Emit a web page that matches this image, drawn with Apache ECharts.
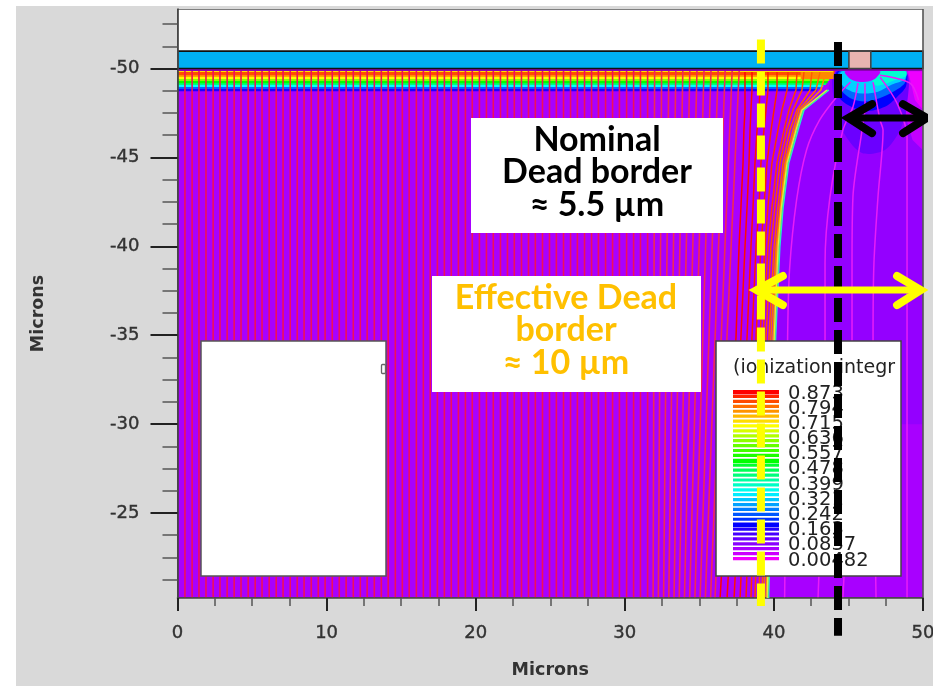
<!DOCTYPE html>
<html><head><meta charset="utf-8">
<style>html,body{margin:0;padding:0;background:#fff}#c{width:933px;height:686px}</style>
<script src="https://cdn.jsdelivr.net/npm/echarts@6/dist/echarts.min.js"></script>
</head><body><div id="c"></div>
<script>
// ---- data (microns, ionization integral) ----
const xTicks=[0,10,20,30,40,50];
const yMajor=[-50,-45,-40,-35,-30,-25];
const yMinor=[-52.5,-51.25,-48.75,-47.5,-46.25,-43.75,-42.5,-41.25,-38.75,-37.5,-36.25,-33.75,-32.5,-31.25,-28.75,-27.5,-26.25,-23.75,-22.5,-21.25];
const legendLabels=['0.873','0.794','0.715','0.636','0.557','0.478','0.399','0.321','0.242','0.163','0.0837','0.00482'];
const legendStripes=[.873,.848,.823,.798,.773,.748,.723,.698,.673,.648,.623,.598,.573,.548,.530,.498,.473,.448,.423,.398,.373,.348,.323,.298,.273,.248,.223,.190,.163,.138,.113,.088,.063,.038,.010];
const colorStops=[[0,'#ff00ff'],[.19,'#0000ff'],[.36,'#00ffff'],[.53,'#00ff00'],[.70,'#ffff00'],[.873,'#ff0000']];

const straightX=[0.50,0.98,1.44,1.91,2.39,2.85,3.33,3.80,4.26,4.74,5.21,5.67,6.15,6.62,7.08,7.56,8.03,8.49,8.97,9.44,9.90,10.38,10.85,11.31,11.79,12.26,12.72,13.20,13.67,14.13,14.61,15.08,15.54,16.02,16.49,16.95,17.43,17.90,18.36,18.84,19.31,19.77,20.25,20.72,21.18,21.66,22.13,22.59,23.07,23.54,24.00,24.48,24.95,25.41,25.89,26.36,26.82,27.30,27.77,28.23,28.71,29.18,29.64,30.12,30.59,31.05,31.53];
const slantTopX=[32.00,32.47,32.95,33.42,33.89,34.36,34.84,35.31,35.78,36.26,36.73,37.20,37.67];
const slantBottomX=[31.90,32.25,32.60,32.95,33.30,33.65,34.00,34.35,34.70,35.05,35.40,35.75,36.05];
const bentDepths=[-49.80,-48.79,-47.67,-46.54,-44.69,-42.21,-39.96,-34.90,-20.22];
const bentValues=[.87,.865,.86,.855,.85,.84,.83,.82,.81,.80,.78];
const bentLines=[
[38.06,38.06,38.06,37.99,37.93,37.79,37.66,37.46,36.39],
[38.53,38.53,38.46,38.40,38.33,38.20,38.06,37.79,36.86],
[39.07,39.07,39.00,38.87,38.73,38.60,38.46,38.20,37.33],
[39.60,39.60,39.47,39.33,39.13,39.00,38.80,38.53,37.73],
[40.21,40.21,40.01,39.81,39.54,39.33,39.13,38.80,38.13],
[40.95,40.88,40.54,40.27,39.87,39.60,39.40,39.07,38.46],
[41.55,41.48,41.01,40.68,40.21,39.87,39.60,39.27,38.73],
[42.02,41.88,41.28,40.88,40.41,40.07,39.80,39.47,39.00],
[42.55,42.42,41.55,41.08,40.61,40.27,40.01,39.67,39.20],
[43.09,42.82,41.68,41.28,40.74,40.41,40.14,39.80,39.33],
[43.49,43.15,41.82,41.41,40.81,40.47,40.21,39.94,39.47]];
const edgeYellow=[43.90,43.55,41.88,41.48,40.88,40.50,40.28,40.02,39.55];
const edgeGreen=[43.96,43.62,41.95,41.55,40.94,40.56,40.34,40.07,39.60];
const edgeCyan=[44.02,43.69,42.02,41.62,41.00,40.62,40.40,40.12,39.65];

const bandRowDepth=[-48.73,-48.85,-48.96,-49.07,-49.18,-49.30,-49.41,-49.52,-49.63,-49.80];
const bandRowValue=[.17,.26,.36,.45,.53,.62,.70,.76,.82,.86];
const bandRowEndX=[42.9,43.1,43.3,43.5,43.6,43.7,43.8,43.9,44.0,44.0];

const rightRegion=[[43.96,-49.85],[43.63,-48.79],[41.95,-47.67],[41.55,-46.54],[40.95,-44.69],[40.54,-42.21],[40.34,-39.96],[40.07,-34.90],[39.8,-30],[50,-30],[50,-49.85]];
const cornerOuter=[[48.6,-49.85],[50,-49.85],[50,-45.4],[49.3,-45.98],[48.9,-47.1]];
const cornerInner=[[49.0,-49.85],[50,-49.85],[50,-47.67],[49.46,-48.23]];
const halo1=[[44.15,-49.85],[44.15,-47.67],[44.77,-46.26],[45.91,-45.25],[47.45,-45.42],[48.46,-46.54],[48.93,-47.95],[48.79,-49.85]];
const halo2=[[44.29,-49.85],[44.29,-48.5],[44.97,-47.95],[46.11,-47.6],[47.45,-47.85],[48.26,-48.4],[48.86,-49.0],[48.79,-49.85]];
const halo3=[[44.43,-49.85],[44.43,-48.9],[45.10,-48.35],[46.11,-48.15],[47.12,-48.35],[48.12,-48.75],[48.79,-49.2],[48.79,-49.85]];
const halo4=[[44.56,-49.85],[44.56,-49.1],[45.24,-48.7],[46.11,-48.6],[46.98,-48.7],[47.92,-49.1],[48.79,-49.4],[48.79,-49.85]];
const halo5=[[46.58,-49.85],[46.78,-49.07],[47.45,-49.13],[48.12,-49.35],[48.86,-49.58],[48.86,-49.85]];
const arch=[[44.77,-49.85],[45.04,-49.47],[45.44,-49.30],[45.91,-49.24],[46.45,-49.30],[46.85,-49.47],[47.12,-49.85]];
const bandFade1=[[41.8,-49.80],[44.0,-49.80],[44.0,-49.41],[41.8,-49.41]];

const rightFlow=[
[[45.14,-49.24],[44.20,-48.40],[43.06,-47.10],[42.19,-45.42],[41.52,-42.60],[41.05,-38.70],[40.92,-34.90],[40.72,-20.22]],
[[45.64,-49.18],[45.30,-47.84],[44.63,-46.54],[43.76,-42.77],[43.43,-39.06],[43.43,-34.90],[42.96,-20.22]],
[[46.11,-49.18],[46.11,-47.84],[45.91,-46.54],[45.30,-42.77],[45.24,-39.06],[45.24,-34.90],[44.63,-20.22]],
[[46.65,-49.24],[47.12,-47.10],[47.32,-46.54],[46.98,-42.77],[46.71,-39.06],[46.65,-34.90],[46.85,-20.22]],
[[47.12,-49.52],[48.26,-48.05],[48.93,-46.14],[48.93,-34.90],[48.93,-20.22]],
[[47.12,-49.63],[49.13,-49.18],[49.70,-48.23]]];

const yellowDashX=39.13, blackDashX=44.30;
const yellowDashY=[-51.64,-19.77];
const blackDashY=[-51.50,-18.10];
const blackArrow={shaft:[[45.0,-47.22],[50.25,-47.22]],left:[[46.58,-48.0],[45.0,-47.22],[46.58,-46.37]],right:[[48.66,-48.0],[50.25,-47.22],[48.66,-46.37]]};
const yellowArrow={shaft:[[38.85,-37.54],[49.85,-37.54]],left:[[40.60,-38.33],[38.85,-37.54],[40.60,-36.70]],right:[[48.26,-38.33],[49.85,-37.54],[48.26,-36.70]]};

// ---- helpers ----
function hex(c){return [1,3,5].map(i=>parseInt(c.substr(i,2),16));}
function rainbow(v){
  for(let i=1;i<colorStops.length;i++){
    if(v<=colorStops[i][0]){
      const a=colorStops[i-1],b=colorStops[i],t=(v-a[0])/(b[0]-a[0]);
      const A=hex(a[1]),B=hex(b[1]);
      return 'rgb('+A.map((q,k)=>Math.round(q+(B[k]-q)*t)).join(',')+')';
    }
  }
  return '#ff0000';
}
const yTop=-53.35,yBot=-20.22;
const rect=(x0,y0,x1,y1)=>[[x0,y0],[x1,y0],[x1,y1],[x0,y1]];
const shapes=[];
shapes.push({pts:rect(0,-49.86,50,yBot),fill:rainbow(.065)});
shapes.push({pts:rightRegion,fill:rainbow(.08)});
shapes.push({pts:cornerOuter,fill:rainbow(.045)});
shapes.push({pts:cornerInner,fill:rainbow(.012)});
shapes.push({pts:halo1,fill:rainbow(.11),smooth:.3});
shapes.push({pts:halo2,fill:rainbow(.19),smooth:.3});
shapes.push({pts:halo3,fill:rainbow(.26),smooth:.3});
shapes.push({pts:halo4,fill:rainbow(.33),smooth:.3});
shapes.push({pts:halo5,fill:rainbow(.39),smooth:.3});
shapes.push({pts:arch,fill:rainbow(.05),smooth:.3});
bandRowDepth.forEach((d,i)=>shapes.push({pts:[[0,-49.86],[bandRowEndX[i]+.1,-49.86],[bandRowEndX[i],d],[0,d]],fill:rainbow(bandRowValue[i])}));
shapes.push({pts:rect(0,-49.86,44,-49.80),fill:rainbow(.72)});
shapes.push({pts:bandFade1,fill:rainbow(.78)});
shapes.push({pts:rect(0,-50,50,-49.86),fill:'#8c00b4'});
shapes.push({pts:rect(0,-50.98,50,-50),fill:'#00b0f4',stroke:'#111',lw:1.6});
shapes.push({pts:rect(45.03,-50.98,46.5,-50),fill:'#e8b4b0',stroke:'#444',lw:1.6});
shapes.push({pts:rect(0,yTop,50,yBot),fill:'none',stroke:'#555',lw:1.6});

function poly(data,color,width,z,extra){
  return Object.assign({type:'line',data,symbol:'none',silent:true,clip:false,z,animation:false,
    lineStyle:{color,width,cap:'butt'}},extra||{});
}
const series=[{type:'custom',coordinateSystem:'cartesian2d',silent:true,clip:true,z:1,animation:false,
  data:shapes.map((s,i)=>[i]),
  encode:{x:-1,y:-1},
  renderItem:(p,api)=>{
    const s=shapes[api.value(0)];
    return {type:'polygon',shape:{points:s.pts.map(q=>api.coord(q)),smooth:s.smooth||0},
      style:{fill:s.fill,stroke:s.stroke||null,lineWidth:s.lw||0}};
  }}];
straightX.forEach(x=>series.push(poly([[x,-49.86],[x,yBot]],'#f0105a',1.6,2)));
slantTopX.forEach((x,i)=>series.push(poly([[x,-49.86],[slantBottomX[i],yBot]],'#f02a55',1.6,2)));
bentLines.forEach((l,i)=>series.push(poly(l.map((x,k)=>[x,bentDepths[k]]),rainbow(bentValues[i]),1.5,2)));
[[edgeCyan,'#20e8e0',1.4],[edgeGreen,'#50f070',1.4],[edgeYellow,'#e8e840',1.3]].forEach(e=>
  series.push(poly(e[0].map((x,k)=>[x,bentDepths[k]]).slice(1),e[1],e[2],3)));
rightFlow.forEach(l=>series.push(poly(l,'#e81cf8',1.5,2,{smooth:.3})));
series.push(poly(yellowDashY.map(y=>[yellowDashX,y]),'#ffff00',8,10,{lineStyle:{color:'#ffff00',width:8,type:[24,8],cap:'butt'}}));
series.push(poly(blackDashY.map(y=>[blackDashX,y]),'#000',8,11,{lineStyle:{color:'#000',width:8,type:[24,8],cap:'butt'}}));
[[yellowArrow,'#ffff00',8,12],[blackArrow,'#000',8,13]].forEach(a=>{
  [a[0].left,a[0].right].forEach(d=>series.push(poly(d,a[1],a[2],a[3],{lineStyle:{color:a[1],width:a[2],cap:'round',join:'miter'}})));
  series.push(poly(a[0].shaft,a[1],a[2]-1,a[3]));
});

const TXT='#333', AF='"DejaVu Sans"', CF='Lato';
const graphic=[
 {type:'rect',z:-10,silent:true,shape:{x:16,y:6,width:917,height:680},style:{fill:'#d9d9d9'}},
 {type:'rect',z:5,silent:true,shape:{x:201,y:341,width:185,height:235},style:{fill:'#fff',stroke:'#555',lineWidth:1.5}},
 {type:'rect',z:6,silent:true,shape:{x:381.5,y:364.5,width:4,height:9,r:1},style:{fill:'#fff',stroke:'#666',lineWidth:1.3}},
 {type:'rect',z:5,silent:true,shape:{x:716,y:341,width:185,height:235},style:{fill:'#fff',stroke:'#444',lineWidth:1.5}},
 {type:'text',z:6,silent:true,x:733,y:368,style:{text:'(ionization integr',font:'19px '+AF,fill:'#222',verticalAlign:'middle'}},
 {type:'rect',z:5,silent:true,shape:{x:471,y:118,width:252,height:115},style:{fill:'#fff'}},
 {type:'rect',z:5,silent:true,shape:{x:432,y:276,width:269,height:116},style:{fill:'#fff'}}
];
legendStripes.forEach((v,i)=>graphic.push({type:'rect',z:6,silent:true,shape:{x:733,y:390+i*4.91,width:46,height:(i==0||v==.53||v==.19)?4.4:3.2},style:{fill:rainbow(v)}}));
legendLabels.forEach((t,i)=>graphic.push({type:'text',z:6,silent:true,x:788,y:393.5+i*15.18,style:{text:t,font:'19.5px '+AF,fill:'#222',verticalAlign:'middle'}}));
function note(text,x,y,color){
  graphic.push({type:'text',z:7,silent:true,x,y,style:{text,font:'bold 34px '+CF,fill:color,align:'center',verticalAlign:'middle'}});
}
note('Nominal',597,140,'#000');
note('Dead border',597,172,'#000');
note('≈ 5.5 µm',597,205,'#000');
note('Effective Dead',566,298,'#ffc000');
note('border',566,330,'#ffc000');
note('≈ 10 µm',566,363,'#ffc000');

const chart=echarts.init(document.getElementById('c'),null,{renderer:'canvas'});
const axisText={fontFamily:AF,fontSize:18,color:TXT,textBorderColor:TXT,textBorderWidth:0.4,hideOverlap:false};
chart.setOption({
  animation:false,backgroundColor:'transparent',
  grid:{left:177.5,top:9,width:745.5,height:589,show:true,backgroundColor:'#fff',borderWidth:0,containLabel:false,outerBoundsMode:'none'},
  xAxis:{type:'value',min:0,max:50,interval:10,z:3,
    name:'Microns',nameLocation:'middle',nameGap:63,
    nameTextStyle:{fontFamily:AF,fontSize:17.5,fontWeight:'bold',color:TXT},
    axisLine:{show:true,lineStyle:{color:'#444',width:1.6}},
    axisTick:{show:true,length:13,lineStyle:{color:'#222',width:2}},
    minorTick:{show:true,splitNumber:4,length:8,lineStyle:{color:'#555',width:1.5}},
    axisLabel:Object.assign({margin:26,showMinLabel:true,showMaxLabel:true,customValues:xTicks},axisText),
    splitLine:{show:false}},
  yAxis:[
   {type:'value',min:yTop,max:yBot,inverse:true,z:3,
    name:'Microns',nameLocation:'middle',nameGap:130,nameRotate:90,
    nameTextStyle:{fontFamily:AF,fontSize:17.5,fontWeight:'bold',color:TXT,padding:[0,20,0,0]},
    axisLine:{show:true,lineStyle:{color:'#444',width:1.6}},
    axisTick:{show:true,length:27,customValues:yMajor,lineStyle:{color:'#222',width:2}},
    axisLabel:Object.assign({margin:38,customValues:yMajor},axisText),
    splitLine:{show:false}},
   {type:'value',min:yTop,max:yBot,inverse:true,z:3,position:'left',
    axisLine:{show:false},
    axisTick:{show:true,length:15,customValues:yMinor,lineStyle:{color:'#555',width:1.5}},
    axisLabel:{show:false},splitLine:{show:false}}],
  graphic,
  series
});
</script></body></html>
